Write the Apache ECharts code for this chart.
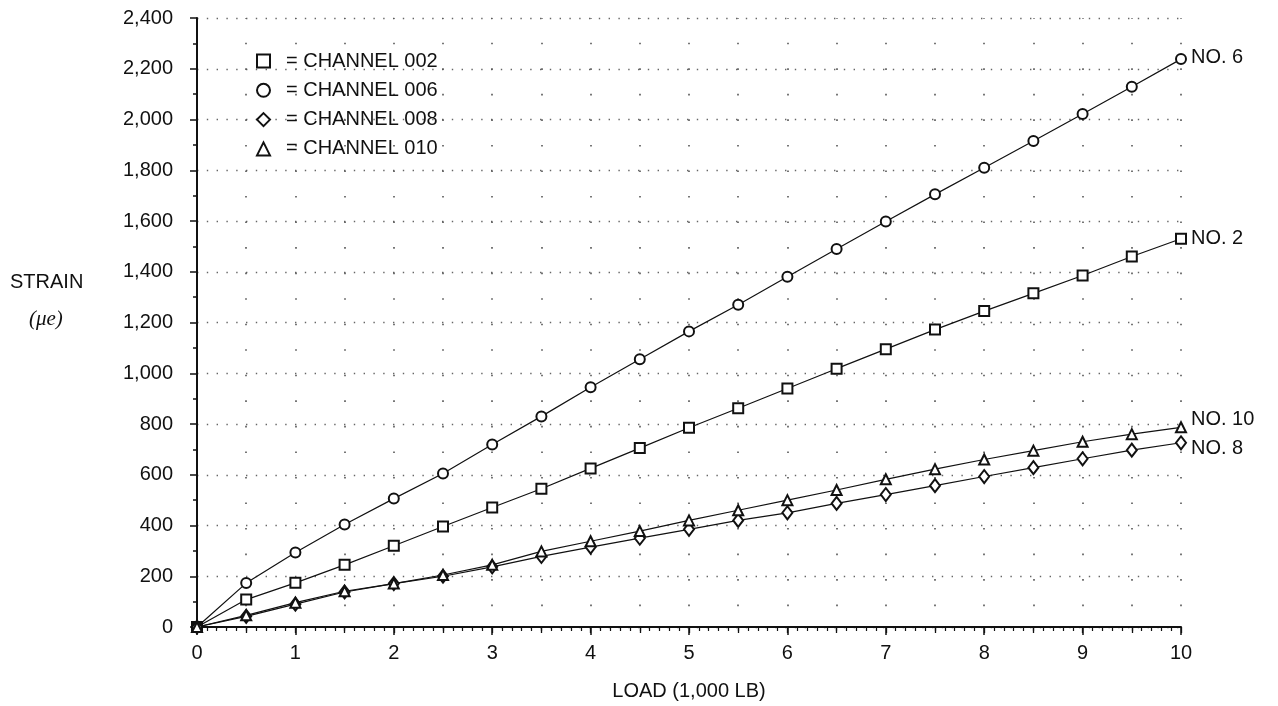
<!DOCTYPE html>
<html>
<head>
<meta charset="utf-8">
<script src="https://cdn.jsdelivr.net/npm/echarts@6/dist/echarts.min.js"></script>
<style>
html,body{margin:0;padding:0;background:#fff;}
#c{width:1278px;height:706px;}
</style>
</head>
<body>
<div id="c"></div>
<script>
// ---- data ----
const loads = [0, 0.5, 1, 1.5, 2, 2.5, 3, 3.5, 4, 4.5, 5, 5.5, 6, 6.5, 7, 7.5, 8, 8.5, 9, 9.5, 10];
const ch002 = [0, 108, 174, 245, 320, 396, 471, 545, 625, 705, 785, 862, 940, 1018, 1095, 1172, 1245, 1315, 1385, 1460, 1530];
const ch006 = [0, 173, 294, 404, 506, 605, 719, 830, 945, 1055, 1165, 1270, 1380, 1490, 1598, 1705, 1810, 1915, 2022, 2129, 2238];
const ch008 = [0, 42, 90, 138, 171, 200, 237, 278, 315, 350, 385, 420, 450, 487, 522, 557, 593, 628, 663, 697, 726];
const ch010 = [0, 46, 96, 141, 171, 205, 245, 298, 338, 378, 420, 460, 500, 540, 582, 622, 660, 695, 730, 760, 787];
const seriesNames = ['= CHANNEL 002', '= CHANNEL 006', '= CHANNEL 008', '= CHANNEL 010'];
const endLabels = ['NO. 2', 'NO. 6', 'NO. 8', 'NO. 10'];
const xTickLabels = ['0','1','2','3','4','5','6','7','8','9','10'];
const yTickLabels = ['0','200','400','600','800','1,000','1,200','1,400','1,600','1,800','2,000','2,200','2,400'];
const xTitle = 'LOAD (1,000 LB)';
const yTitle1 = 'STRAIN';
const yTitle2 = '(\u03bce)';

const FONT = '"Liberation Sans", Arial, sans-serif';
const pairs = arr => loads.map((x, i) => [x, arr[i]]);

const chart = echarts.init(document.getElementById('c'), null, {renderer: 'canvas'});

function mk(name, data, symbol, size, label, labelOffset) {
  return {
    name: name, type: 'line', data: pairs(data),
    xAxisIndex: 0, yAxisIndex: 0,
    symbol: symbol, symbolSize: size, showAllSymbol: true,
    lineStyle: {color: '#111', width: 1.2},
    itemStyle: {color: '#111', borderColor: '#111', borderWidth: 1.8},
    animation: false,
    endLabel: {
      show: true, formatter: label, color: '#111', fontFamily: FONT, fontSize: 20,
      distance: 10, offset: labelOffset
    },
    emphasis: {disabled: true}
  };
}

const option = {
  animation: false,
  backgroundColor: '#fff',
  grid: {left: 197, right: 97, top: 18, bottom: 75, containLabel: false},
  legend: {
    orient: 'vertical', left: 251, top: 46, padding: 5, itemGap: 9.3, itemWidth: 13, itemHeight: 13,
    textStyle: {fontFamily: FONT, fontSize: 20, color: '#111', padding: [0,0,0,11]},
    itemStyle: {borderWidth: 2.2},
    data: [
      {name: seriesNames[0], icon: 'emptyRect'},
      {name: seriesNames[1], icon: 'emptyCircle'},
      {name: seriesNames[2], icon: 'emptyDiamond'},
      {name: seriesNames[3], icon: 'emptyTriangle'}
    ],
    selectedMode: false
  },
  xAxis: [
    {
      type: 'value', min: 0, max: 10, interval: 1, position: 'bottom',
      name: xTitle, nameLocation: 'middle', nameGap: 54,
      nameTextStyle: {fontFamily: FONT, fontSize: 20, color: '#111'},
      axisLine: {show: true, onZero: false, lineStyle: {color: '#111', width: 2}},
      axisTick: {show: true, length: 8, lineStyle: {color: '#111', width: 1.5}},
      minorTick: {show: true, splitNumber: 10, length: 4, lineStyle: {color: '#111', width: 1.2}},
      axisLabel: {fontFamily: FONT, fontSize: 20, color: '#111', margin: 16,
        formatter: (v) => xTickLabels[Math.round(v)]},
      splitLine: {show: false}
    },
    {
      type: 'value', min: 0, max: 10, interval: 0.5, position: 'bottom', offset: 0,
      axisLine: {show: false}, axisLabel: {show: false},
      axisTick: {show: true, length: 6, lineStyle: {color: '#111', width: 1.3}},
      splitLine: {show: true, lineStyle: {color: '#555', width: 1.6, type: [1.6, 23.94], dashOffset: 0.8}}
    }
  ],
  yAxis: [
    {
      type: 'value', min: 0, max: 2400, interval: 200,
      axisLine: {show: true, onZero: false, lineStyle: {color: '#111', width: 2}},
      axisTick: {show: true, length: 7, lineStyle: {color: '#111', width: 1.5}},
      minorTick: {show: true, splitNumber: 2, length: 4, lineStyle: {color: '#111', width: 1.5}},
      axisLabel: {fontFamily: FONT, fontSize: 20, color: '#111', margin: 24,
        formatter: (v) => yTickLabels[Math.round(v / 200)]},
      splitLine: {show: true, lineStyle: {color: '#666', width: 1.4, type: [1.4, 8.4]}}
    }
  ],
  graphic: [
    {type: 'text', left: 10, top: 272, style: {text: yTitle1, fontFamily: FONT, fontSize: 20, fill: '#111'}},
    {type: 'text', left: 29, top: 309, style: {text: yTitle2, fontFamily: '"Liberation Serif", "Times New Roman", serif', fontStyle: 'italic', fontSize: 21, fill: '#111'}}
  ],
  series: [
    mk(seriesNames[0], ch002, 'emptyRect', 10, endLabels[0], [0, 0]),
    mk(seriesNames[1], ch006, 'emptyCircle', 10, endLabels[1], [0, -2]),
    mk(seriesNames[2], ch008, 'emptyDiamond', [10, 13], endLabels[2], [0, 6]),
    mk(seriesNames[3], ch010, 'emptyTriangle', 10, endLabels[3], [0, -8])
  ]
};
chart.setOption(option);
</script>
</body>
</html>
